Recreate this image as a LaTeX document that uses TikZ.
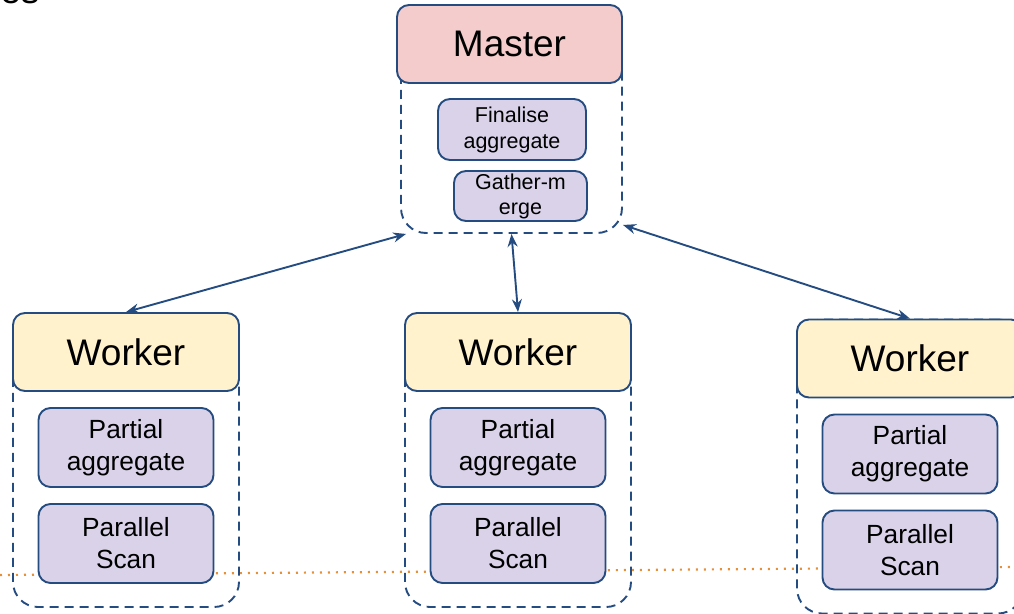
\documentclass[tikz,border=0pt]{standalone}
\usepackage{fontspec}
\setmainfont{Liberation Sans}
\usetikzlibrary{arrows.meta}
\definecolor{edgeblue}{RGB}{36,76,128}
\definecolor{masterpink}{RGB}{244,204,204}
\definecolor{workeryellow}{RGB}{255,242,204}
\definecolor{steplilac}{RGB}{217,210,233}
\definecolor{lineorange}{RGB}{230,145,56}
\begin{document}
\begin{tikzpicture}[x=1pt,y=-1pt,
	hdr/.style={draw=edgeblue,line width=1.9pt,rounded corners=12pt,inner sep=0pt,font=\fontsize{37}{40}\selectfont},
	sub/.style={draw=edgeblue,fill=steplilac,line width=1.9pt,rounded corners=12pt,align=center,inner sep=0pt},
	cont/.style={draw=edgeblue,line width=1.9pt,dash pattern=on 9pt off 6pt,rounded corners=25pt,inner sep=0pt},
	link/.style={draw=edgeblue,line width=1.9pt,{Stealth[length=13pt,width=10pt]}-{Stealth[length=13pt,width=10pt]}}]
		\useasboundingbox (0,0) rectangle (1014,613);
		\clip (0,0) rectangle (1014,613);
		\node[anchor=base east,font=\fontsize{37}{40}\selectfont] (ttl) at (43,4) {ies};
		\draw[lineorange,line width=2.2pt,dash pattern=on 2pt off 6pt] (0,575) -- (1014,567);
		% master
		\node[cont,minimum width=221pt,minimum height=228pt] (mbox) at (511.5,119) {};
		\node[hdr,fill=masterpink,minimum width=225pt,minimum height=78pt] (mhead) at (509.5,44) {Master};
		\node[sub,minimum width=148pt,minimum height=61pt,font=\fontsize{21.5}{26}\selectfont] (fin) at (512,129.5) {Finalise\\aggregate};
		\node[sub,minimum width=133pt,minimum height=50pt,font=\fontsize{21.5}{25}\selectfont] (gath) at (520.5,196) {Gather-m\\erge};
		% workers
		\foreach \i/\cx/\dy in {1/126/0,2/518/0,3/910/6.5}{
		\node[cont,minimum width=226pt,minimum height=294pt] (wbox\i) at (\cx,460+\dy) {};
		\node[hdr,fill=workeryellow,minimum width=226pt,minimum height=78pt] (whead\i) at (\cx,352+\dy) {Worker};
		\node[sub,minimum width=175pt,minimum height=79pt,font=\fontsize{26.3}{32}\selectfont] (part\i) at (\cx,447.5+\dy) {Partial\\aggregate};
		\node[sub,minimum width=175pt,minimum height=79pt,font=\fontsize{26.3}{32}\selectfont] (scan\i) at (\cx,543.5+\dy) {Parallel\\Scan};
		}
		\draw[link] ([xshift=6pt]mbox.south west) -- (whead1.north);
		\draw[link] (mbox.south) -- (whead2.north);
		\draw[link] ([yshift=9pt]mbox.south east) -- (whead3.north);
\end{tikzpicture}
\end{document}
